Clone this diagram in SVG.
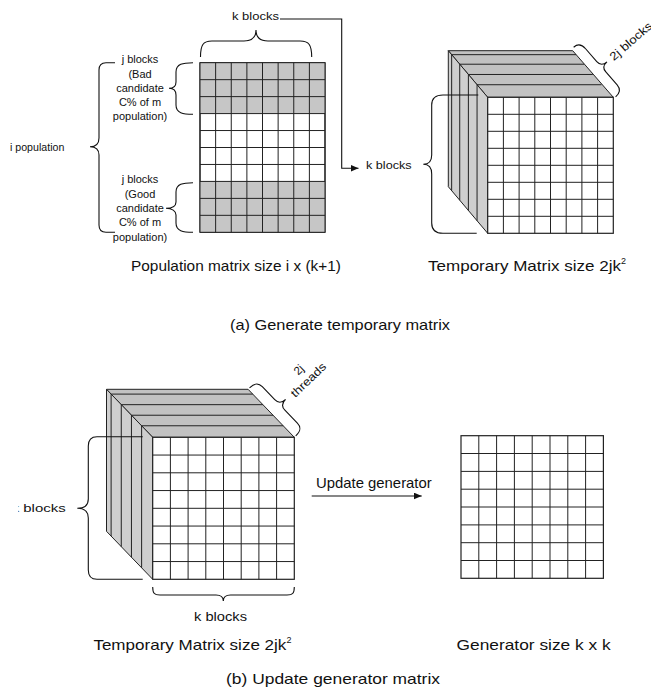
<svg xmlns="http://www.w3.org/2000/svg" width="651" height="692" viewBox="0 0 651 692">
  <style>
    text { font-family: "Liberation Sans", Arial, sans-serif; fill: #111; }
    .cap { font-size: 15px; }
    .lbl { font-size: 11.5px; }
    .sm { font-size: 11px; text-anchor: middle; }
    .grid { fill: none; stroke: #222; stroke-width: 1; }
    .cell { fill: #fff; stroke: #222; stroke-width: 1.2; }
    .shade { fill: #c6c6c6; }
    .top { fill: #c2c2c2; stroke: #222; stroke-width: 1; }
    .side { fill: #cfcfcf; stroke: #222; stroke-width: 1; }
    .slice { fill: none; stroke: #222; stroke-width: 1; }
    .brace { fill: none; stroke: #111; stroke-width: 1.1; }
    .wire { fill: none; stroke: #111; stroke-width: 1.1; }
  </style>
  <defs>
    <marker id="arrow" viewBox="0 0 8 7" refX="8" refY="3.5" markerWidth="8" markerHeight="7" markerUnits="userSpaceOnUse" orient="auto">
      <path d="M0,0 L8,3.5 L0,7 z" fill="#111"/>
    </marker>
    <clipPath id="clipLeft">
      <rect x="18.3" y="490" width="60" height="30"/>
    </clipPath>
  </defs>
  <rect width="651" height="692" fill="#fff"/>

  <!-- (a) population matrix -->
  <g id="population-matrix">
    <rect class="cell" x="200" y="62.7" width="125" height="169.6"/>
    <rect class="shade" x="200" y="62.7" width="125" height="50.9"/>
    <rect class="shade" x="200" y="181.4" width="125" height="50.9"/>
    <path class="grid" d="M200,62.7H325M200,79.66H325M200,96.62H325M200,113.58H325M200,130.54H325M200,147.5H325M200,164.46H325M200,181.42H325M200,198.38H325M200,215.34H325M200,232.3H325
      M200,62.7V232.3M215.63,62.7V232.3M231.25,62.7V232.3M246.88,62.7V232.3M262.5,62.7V232.3M278.13,62.7V232.3M293.75,62.7V232.3M309.38,62.7V232.3M325,62.7V232.3"/>
    <path class="brace" d="M200.5,57 C200.5,45 203,41 212,41 L244,41 C252,41 256,38 256,30 C256,38 260,41 268,41 L300,41 C309,41 311.7,45 311.7,57"/>
    <text class="lbl" x="232" y="19.5" textLength="47" lengthAdjust="spacingAndGlyphs">k blocks</text>
  </g>

  <g id="bad-candidates">
    <path class="brace" d="M193,62.7 C183,62.7 176,64 176,72 L176,82 C176,86 174,88.3 169,88.3 C174,88.3 176,91 176,95 L176,105 C176,113 183,114.3 193,114.3"/>
    <text class="sm" x="140" y="63.3">j blocks</text>
    <text class="sm" x="140" y="77.5">(Bad</text>
    <text class="sm" x="140" y="91.7">candidate</text>
    <text class="sm" x="140" y="105.9">C% of m</text>
    <text class="sm" x="140" y="120.1">population)</text>
  </g>

  <g id="good-candidates">
    <path class="brace" d="M193,182.7 C183,182.7 176,184 176,192 L176,202 C176,206 172,208.3 166,208.3 C172,208.3 176,211 176,215 L176,223 C176,231 183,232.3 193,232.3"/>
    <text class="sm" x="140" y="183.3">j blocks</text>
    <text class="sm" x="140" y="197.6">(Good</text>
    <text class="sm" x="140" y="212">candidate</text>
    <text class="sm" x="140" y="226.3">C% of m</text>
    <text class="sm" x="140" y="240.7">population)</text>
  </g>

  <g id="i-population">
    <path class="brace" d="M115,62.7 L106,62.7 C101,62.7 99,65 99,70 L99,138 C99,144 96,146.7 90,146.7 C96,146.7 99,149.5 99,155 L99,225 C99,230 101,232.3 106,232.3 L115,232.3"/>
    <text x="10" y="150.5" font-size="10.5" textLength="54.3" lengthAdjust="spacingAndGlyphs">i population</text>
  </g>

  <!-- (a) temporary matrix cube -->
  <g id="temp-cube-a">
    <polygon class="top" points="448.3,50.7 572.7,50.7 613.3,97.3 487.7,97.3"/>
    <polygon class="side" points="448.3,50.7 487.7,97.3 487.7,233.3 448.3,186.7"/>
    <path class="slice" d="M451.65,54.66H576.05M459.73,64.21H584.13M468.39,74.47H592.79M477.06,84.72H601.46
      M451.65,54.66V190.66M459.73,64.21V200.21M468.39,74.47V210.47M477.06,84.72V220.72"/>
    <rect class="cell" x="487.7" y="97.3" width="125.6" height="136"/>
    <path class="grid" d="M487.7,114.3H613.3M487.7,131.3H613.3M487.7,148.3H613.3M487.7,165.3H613.3M487.7,182.3H613.3M487.7,199.3H613.3M487.7,216.3H613.3
      M503.4,97.3V233.3M519.1,97.3V233.3M534.8,97.3V233.3M550.5,97.3V233.3M566.2,97.3V233.3M581.9,97.3V233.3M597.6,97.3V233.3"/>
    <path class="brace" d="M478.3,95 L443,95 C436,95 431.7,98 431.7,105 L431.7,155 C431.7,161 429,164.3 423.3,164.3 C429,164.3 431.7,167.5 431.7,174 L431.7,223 C431.7,230 436,233.3 443,233.3 L476.7,233.3"/>
    <text class="lbl" x="366" y="169.3" textLength="45.7" lengthAdjust="spacingAndGlyphs">k blocks</text>
    <g transform="translate(572.7,50.7) rotate(48.9)">
      <path class="brace" d="M-2,-3 C-2,-9 1,-11 7,-11 L24,-11 C28.5,-11 30.9,-13.5 30.9,-18.5 C30.9,-13.5 33.3,-11 37.8,-11 L55,-11 C61,-11 63,-8 63,-2"/>
      <text class="lbl" transform="rotate(-90)" x="24" y="35" textLength="52" lengthAdjust="spacingAndGlyphs">2j blocks</text>
    </g>
  </g>

  <g id="captions-a">
    <text class="cap" x="131" y="271" textLength="210" lengthAdjust="spacingAndGlyphs">Population matrix size i x (k+1)</text>
    <text class="cap" x="428" y="271"><tspan textLength="193" lengthAdjust="spacingAndGlyphs">Temporary Matrix size 2jk</tspan><tspan font-size="9" dy="-7">2</tspan></text>
    <text class="cap" x="230" y="330" textLength="220" lengthAdjust="spacingAndGlyphs">(a) Generate temporary matrix</text>
  </g>

  <!-- (b) temporary matrix cube -->
  <g id="temp-cube-b">
    <polygon class="top" points="106.5,389.3 248.1,389.3 294.3,437.3 152.7,437.3"/>
    <polygon class="side" points="106.5,389.3 152.7,437.3 152.7,579.3 106.5,531.3"/>
    <path class="slice" d="M111.12,394.1H252.72M121.28,404.66H262.88M131.45,415.22H273.05M141.61,425.78H283.21
      M111.12,394.1V536.1M121.28,404.66V546.66M131.45,415.22V557.22M141.61,425.78V567.78"/>
    <rect class="cell" x="152.7" y="437.3" width="141.6" height="142"/>
    <path class="grid" d="M152.7,455.05H294.3M152.7,472.8H294.3M152.7,490.55H294.3M152.7,508.3H294.3M152.7,526.05H294.3M152.7,543.8H294.3M152.7,561.55H294.3
      M170.4,437.3V579.3M188.1,437.3V579.3M205.8,437.3V579.3M223.5,437.3V579.3M241.2,437.3V579.3M258.9,437.3V579.3M276.6,437.3V579.3"/>
    <path class="brace" d="M142.7,436.7 L97,436.7 C91,436.7 88.3,440 88.3,446 L88.3,499 C88.3,505 85,508.3 77.3,508.3 C85,508.3 88.3,511.5 88.3,518 L88.3,570 C88.3,576 91,579.3 97,579.3 L142.7,579.3"/>
    <text class="lbl" x="11.7" y="512" font-size="13.5" textLength="54" lengthAdjust="spacingAndGlyphs" clip-path="url(#clipLeft)">k blocks</text>
    <path class="brace" d="M152.7,587 C152.7,593 154,595 160,595 L216,595 C221,595 223.3,597 223.3,601 C223.3,597 225.6,595 230.6,595 L287,595 C293,595 294.3,593 294.3,587"/>
    <text x="194" y="621" font-size="13" textLength="53" lengthAdjust="spacingAndGlyphs">k blocks</text>
    <g transform="translate(248.1,389.3) rotate(46.1)">
      <path class="brace" d="M0,-2 C0,-9 2,-12 8,-12 L26,-12 C30.5,-12 33.3,-15 33.3,-20 C33.3,-15 36,-12 40.6,-12 L58.6,-12 C64.6,-12 66.6,-9 66.6,-2"/>
      <g transform="rotate(-90)">
        <text class="lbl" x="50" y="25" text-anchor="middle">2j</text>
        <text class="lbl" x="28" y="39" textLength="44" lengthAdjust="spacingAndGlyphs">threads</text>
      </g>
    </g>
  </g>

  <!-- (b) generator matrix -->
  <g id="generator">
    <rect class="cell" x="461" y="435.7" width="142.4" height="142.6"/>
    <path class="grid" d="M461,453.5H603.4M461,471.4H603.4M461,489.2H603.4M461,507H603.4M461,524.9H603.4M461,542.7H603.4M461,560.5H603.4
      M478.8,435.7V578.3M496.6,435.7V578.3M514.4,435.7V578.3M532.2,435.7V578.3M550,435.7V578.3M567.8,435.7V578.3M585.6,435.7V578.3"/>
  </g>

  <g id="captions-b">
    <text class="cap" x="93.4" y="650"><tspan textLength="193" lengthAdjust="spacingAndGlyphs">Temporary Matrix size 2jk</tspan><tspan font-size="9" dy="-7">2</tspan></text>
    <text class="cap" x="456.6" y="650" textLength="154" lengthAdjust="spacingAndGlyphs">Generator size k x k</text>
    <text class="cap" x="226" y="684" textLength="214" lengthAdjust="spacingAndGlyphs">(b) Update generator matrix</text>
  </g>

  <!-- connectors -->
  <g id="connectors">
    <path class="wire" d="M280,19 H341.7 V168.3 H358.5" marker-end="url(#arrow)"/>
    <path class="wire" d="M311.7,496 H421.7" marker-end="url(#arrow)"/>
    <text x="316" y="488" font-size="14.5" textLength="115.7" lengthAdjust="spacingAndGlyphs">Update generator</text>
  </g>
</svg>
